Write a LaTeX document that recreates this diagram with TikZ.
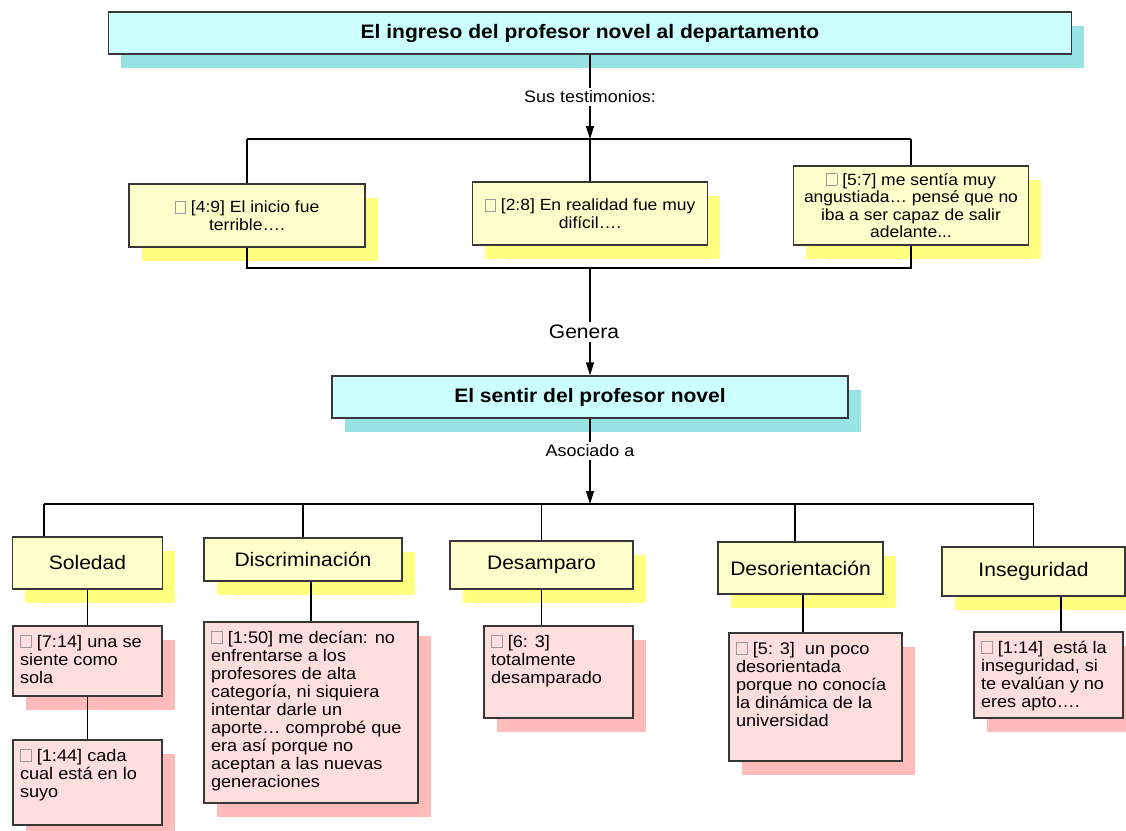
\documentclass[tikz,border=0pt]{standalone}
\usepackage{fontspec}
\setmainfont{Liberation Sans}[FakeStretch=1.08]
\usepackage{tikz}
\usetikzlibrary{arrows.meta,shadows}
\usepackage{xcolor}
\definecolor{cianclaro}{RGB}{204,255,255}
\definecolor{ciansombra}{RGB}{152,228,228}
\definecolor{amarillo}{RGB}{255,255,204}
\definecolor{amarillosombra}{RGB}{255,255,128}
\definecolor{rosa}{RGB}{255,222,222}
\definecolor{rosasombra}{RGB}{255,186,186}
\definecolor{borde}{RGB}{55,55,55}
\newcommand{\glifo}{{\color{black!40}\setlength{\fboxsep}{0pt}\setlength{\fboxrule}{0.7pt}\fbox{\rule{0pt}{0.68em}\hspace{0.62em}}}}
\newcommand{\nota}[3]{\parbox[c][#1pt][t]{#2pt}{\raggedright\rule{0pt}{21pt}\glifo\ #3}}

\begin{document}
\begin{tikzpicture}[
    x=1pt, y=-1pt,
    sombra/.style={drop shadow={shadow xshift=12.5pt, shadow yshift=-13.5pt, fill=#1, draw=none, opacity=1}},
    titulo/.style={rectangle, draw=borde, line width=1.3pt, fill=cianclaro, sombra=ciansombra, minimum height=42pt, font=\bfseries\fontsize{19.5}{22}\selectfont},
    cita/.style={rectangle, draw=borde, line width=1.3pt, fill=amarillo, sombra=amarillosombra, align=center, inner sep=4pt, font=\fontsize{16.2}{17.5}\selectfont},
    categoria/.style={rectangle, draw=borde, line width=1.3pt, fill=amarillo, sombra=amarillosombra, font=\fontsize{19.5}{22}\selectfont},
    notabox/.style={rectangle, draw=borde, line width=1.3pt, fill=rosa, sombra=rosasombra, inner xsep=7pt, inner ysep=0pt, font=\fontsize{16.8}{18}\selectfont},
    etiqueta/.style={inner sep=3pt, font=\fontsize{16.6}{18}\selectfont},
    linea/.style={line width=1.1pt},
    flecha/.style={-{Triangle[length=13pt,width=8pt]}, line width=1.1pt}
]
\useasboundingbox (0,0) rectangle (1126,830);

% Titulo principal
\node[titulo, minimum width=963pt] (ingreso) at (590,33) {El ingreso del profesor novel al departamento};
\node[etiqueta] (sus) at (590,97) {Sus testimonios:};

% Testimonios
\node[cita, minimum width=236pt, minimum height=63pt] (t49) at (247,215.5) {\glifo\ [4:9] El inicio fue\\terrible….};
\node[cita, minimum width=235pt, minimum height=63pt] (t28) at (590,213.5) {\glifo\ [2:8] En realidad fue muy\\difícil….};
\node[cita, minimum width=235pt, minimum height=79pt] (t57) at (911,205.5) {\glifo\ [5:7] me sentía muy\\angustiada… pensé que no\\iba a ser capaz de salir\\adelante...};

% Segundo titulo
\node[etiqueta, font=\fontsize{19.5}{22}\selectfont] (genera) at (584,332) {Genera};
\node[titulo, minimum width=516pt] (sentir) at (590,397) {El sentir del profesor novel};
\node[etiqueta] (asociado) at (590,451) {Asociado a};

% Categorias
\node[categoria, minimum width=150pt, minimum height=52pt] (soledad) at (87.5,563) {Soledad};
\node[categoria, minimum width=198pt, minimum height=43pt] (discrim) at (303,559.5) {Discriminación};
\node[categoria, minimum width=183pt, minimum height=48pt] (desamparo) at (541.5,565) {Desamparo};
\node[categoria, minimum width=165pt, minimum height=52pt] (desorient) at (800.5,568) {Desorientación};
\node[categoria, minimum width=183pt, minimum height=49pt] (insegur) at (1033.5,571.5) {Inseguridad};

% Citas de cada categoria
\node[notabox] (s714) at (87.5,661) {\nota{70}{135}{[7:14] una se\\siente como\\sola}};
\node[notabox] (s144) at (87.5,782.5) {\nota{85}{135}{[1:44] cada\\cual está en lo\\suyo}};
\node[notabox] (d150) at (311,712.5) {\nota{181}{200}{[1:50] me decían: no\\enfrentarse a los\\profesores de alta\\categoría, ni siquiera\\intentar darle un\\aporte… comprobé que\\era así porque no\\aceptan a las nuevas\\generaciones}};
\node[notabox] (a63) at (558.5,672) {\nota{92}{135}{[6: 3]\\totalmente\\desamparado}};
\node[notabox] (o53) at (815.5,697) {\nota{128}{159}{[5: 3]\ \ un poco\\desorientada\\porque no conocía\\la dinámica de la\\universidad}};
\node[notabox] (i114) at (1048.5,675) {\nota{86}{135}{[1:14]\ \ está la\\inseguridad, si\\te evalúan y no\\eres apto….}};

% Conectores superiores
\coordinate (b0) at (590,139);
\coordinate (b1) at (247,139);
\coordinate (b3) at (911,139);
\draw[linea] (ingreso) -- (sus);
\draw[flecha] (sus) -- (b0);
\draw[linea] (b1) -- (b3);
\draw[linea] (b1) -- (t49);
\draw[linea] (b0) -- (t28);
\draw[linea] (b3) -- (t57);

\coordinate (c0) at (590,268);
\coordinate (c1) at (247,268);
\coordinate (c3) at (911,268);
\draw[linea] (t49) -- (c1) -- (c3) -- (t57);
\draw[linea] (c0) -- (c0 |- genera.north);
\draw[flecha] (genera.south -| c0) -- (sentir);

% Conectores inferiores
\coordinate (r0) at (590,504);
\coordinate (r1) at (44,504);
\coordinate (r2) at (303,504);
\coordinate (r3) at (541.5,504);
\coordinate (r4) at (795,504);
\coordinate (r5) at (1033.5,504);
\draw[linea] (sentir) -- (asociado);
\draw[flecha] (asociado) -- (r0);
\draw[linea] (r1) -- (r5);
\draw[linea] (r1) -- (r1 |- soledad.north);
\draw[linea] (r2) -- (discrim);
\draw[linea] (r3) -- (desamparo);
\draw[linea] (r4) -- (r4 |- desorient.north);
\draw[linea] (r5) -- (insegur);

\draw[linea] (soledad) -- (s714);
\draw[linea] (s714) -- (s144);
\draw[linea] (d150 |- discrim.south) -- (d150);
\draw[linea] (desamparo) -- (desamparo |- a63.north);
\draw[linea] ([xshift=2.5pt]desorient.south) -- ([xshift=2.5pt]desorient.south |- o53.north);
\draw[linea] ([xshift=27.5pt]insegur.south) -- ([xshift=27.5pt]insegur.south |- i114.north);

\end{tikzpicture}
\end{document}
